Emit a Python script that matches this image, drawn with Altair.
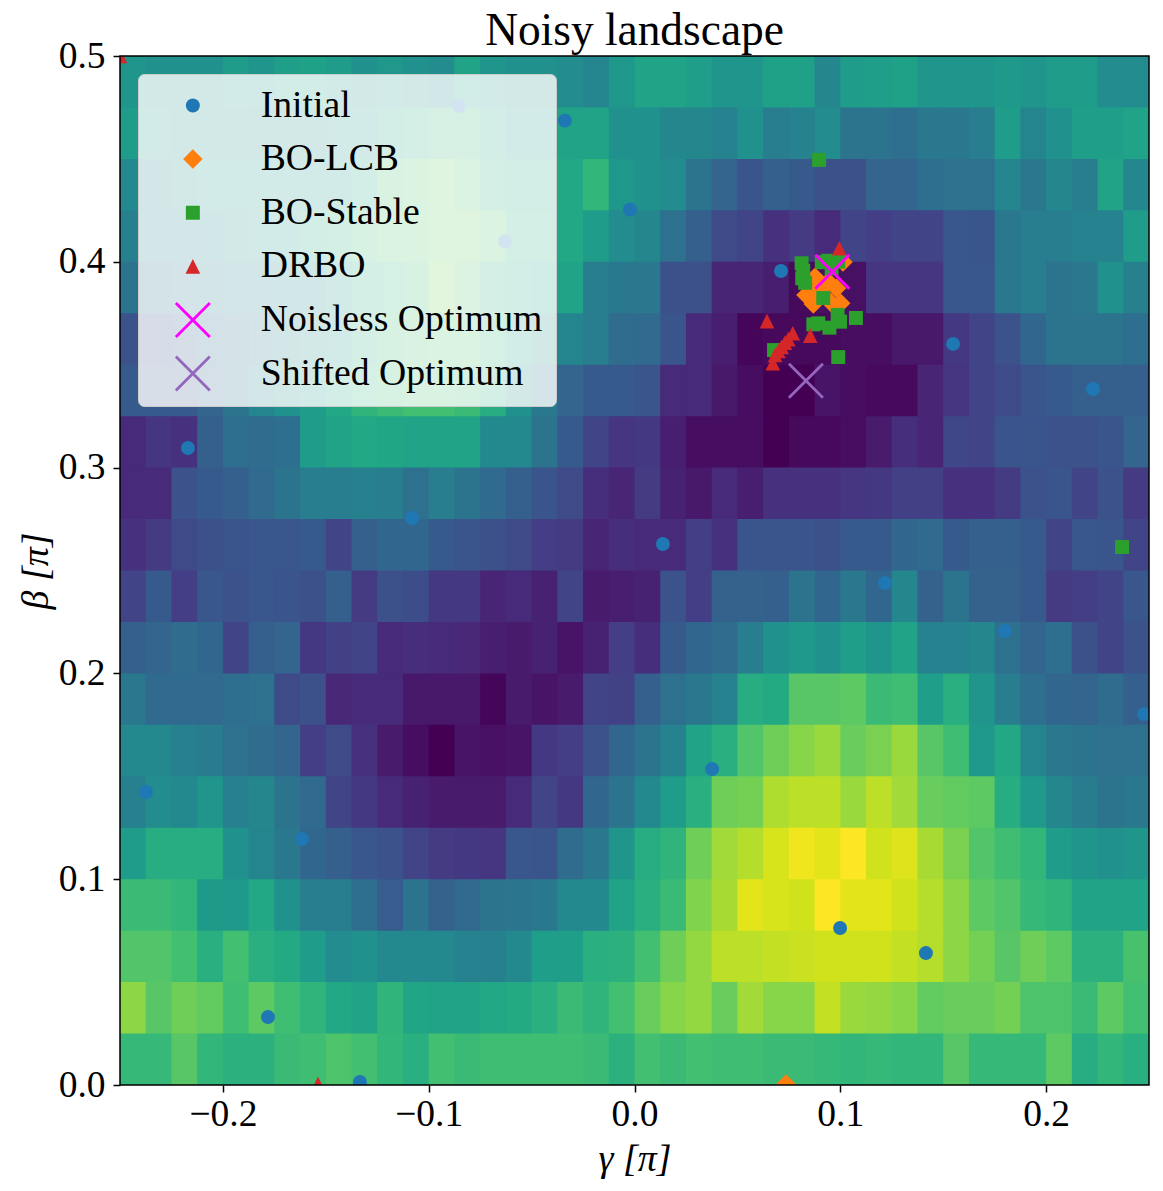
import altair as alt
import pandas as pd

# Landscape values on a 0..1 scale, first row = top of the plot (beta from 0.5 down to 0)
row00 = [.52,.50,.50,.50,.55,.52,.56,.57,.55,.50,.53,.50,.48,.58,.52,.50,.50,.48,.45,.53,.58,.58,.56,.52,.52,.57,.57,.46,.55,.56,.57,.52,.52,.52,.54,.52,.55,.55,.48,.48]
row01 = [.55,.52,.50,.50,.50,.50,.50,.50,.52,.55,.60,.62,.66,.66,.60,.55,.55,.58,.58,.50,.50,.46,.46,.44,.50,.42,.44,.48,.38,.38,.36,.40,.40,.42,.55,.45,.50,.56,.56,.58]
row02 = [.47,.47,.50,.52,.55,.55,.55,.55,.55,.60,.70,.72,.76,.72,.62,.60,.60,.60,.66,.53,.50,.48,.38,.32,.26,.30,.28,.24,.24,.32,.32,.36,.37,.37,.45,.40,.46,.42,.58,.46]
row03 = [.43,.45,.45,.48,.50,.53,.55,.60,.62,.68,.72,.72,.76,.76,.72,.62,.62,.60,.55,.48,.46,.37,.30,.22,.20,.14,.17,.12,.20,.18,.20,.20,.27,.26,.40,.42,.42,.44,.44,.55]
row04 = [.38,.38,.40,.42,.44,.46,.48,.48,.52,.62,.65,.68,.78,.73,.62,.60,.58,.58,.42,.40,.40,.24,.24,.10,.10,.08,.02,.04,.04,.15,.15,.15,.27,.27,.40,.42,.38,.40,.50,.43]
row05 = [.25,.27,.30,.34,.36,.40,.46,.50,.55,.64,.68,.70,.72,.72,.65,.58,.50,.45,.42,.35,.34,.26,.12,.08,.01,.02,.02,.02,.03,.03,.06,.06,.16,.20,.25,.33,.38,.38,.38,.36]
row06 = [.28,.28,.28,.32,.38,.45,.50,.55,.60,.65,.68,.70,.70,.68,.62,.50,.40,.32,.28,.28,.26,.12,.12,.06,.03,.00,.00,.05,.03,.02,.02,.10,.15,.20,.22,.26,.28,.30,.30,.30]
row07 = [.12,.15,.14,.30,.36,.35,.36,.55,.58,.60,.59,.58,.58,.58,.47,.47,.38,.28,.20,.15,.16,.08,.03,.03,.03,.00,.02,.02,.03,.07,.13,.10,.21,.20,.26,.26,.25,.25,.26,.32]
row08 = [.12,.12,.25,.28,.30,.34,.38,.42,.42,.43,.42,.37,.42,.38,.34,.30,.26,.22,.13,.10,.17,.09,.06,.12,.08,.14,.14,.14,.15,.16,.19,.19,.14,.14,.17,.25,.26,.20,.25,.17]
row09 = [.14,.17,.22,.24,.26,.27,.27,.28,.20,.30,.33,.33,.28,.26,.24,.22,.18,.17,.10,.13,.12,.12,.18,.14,.26,.26,.26,.24,.28,.28,.33,.34,.28,.30,.30,.28,.20,.27,.26,.20]
row10 = [.20,.28,.18,.27,.25,.27,.26,.24,.30,.17,.24,.23,.16,.16,.10,.12,.09,.20,.07,.08,.09,.25,.18,.31,.31,.30,.38,.33,.40,.33,.46,.31,.38,.31,.31,.28,.17,.18,.20,.27]
row11 = [.30,.32,.35,.33,.20,.30,.32,.16,.19,.20,.12,.13,.12,.11,.08,.07,.09,.05,.09,.18,.13,.28,.33,.35,.42,.50,.54,.50,.56,.52,.58,.44,.44,.46,.37,.32,.36,.24,.20,.25]
row12 = [.40,.34,.34,.34,.36,.37,.22,.24,.11,.12,.12,.06,.06,.06,.01,.07,.05,.07,.20,.19,.30,.37,.40,.44,.62,.61,.74,.74,.75,.68,.69,.56,.63,.52,.42,.36,.33,.32,.35,.30]
row13 = [.47,.47,.43,.41,.37,.35,.32,.18,.22,.14,.07,.03,.00,.05,.04,.05,.16,.18,.25,.33,.38,.44,.58,.63,.73,.78,.82,.85,.77,.80,.85,.74,.69,.54,.60,.45,.40,.38,.37,.37]
row14 = [.43,.48,.47,.52,.43,.46,.38,.34,.20,.16,.12,.09,.07,.07,.07,.12,.20,.16,.33,.38,.47,.55,.63,.78,.79,.88,.90,.90,.85,.90,.86,.77,.76,.75,.62,.54,.46,.41,.38,.40]
row15 = [.55,.62,.62,.62,.50,.45,.40,.33,.30,.27,.25,.20,.17,.16,.15,.27,.26,.35,.40,.52,.62,.65,.78,.86,.89,.94,.98,.96,1.0,.93,.95,.87,.80,.73,.69,.66,.55,.52,.50,.52]
row16 = [.68,.68,.66,.54,.54,.60,.50,.42,.42,.36,.29,.38,.31,.34,.38,.39,.40,.47,.47,.58,.63,.68,.81,.87,.96,.94,.93,1.0,.96,.96,.93,.89,.83,.75,.73,.67,.65,.58,.58,.58]
row17 = [.73,.73,.70,.63,.70,.63,.61,.55,.48,.50,.47,.47,.47,.44,.43,.47,.56,.56,.63,.64,.70,.78,.84,.90,.90,.91,.92,.93,.93,.93,.91,.89,.83,.79,.74,.78,.75,.64,.64,.71]
row18 = [.83,.74,.78,.76,.69,.75,.69,.65,.60,.58,.65,.59,.58,.58,.60,.61,.63,.68,.65,.70,.77,.82,.84,.77,.86,.82,.82,.91,.85,.84,.82,.76,.77,.77,.79,.72,.72,.68,.75,.70]
row19 = [.67,.67,.74,.66,.64,.64,.68,.69,.72,.70,.66,.63,.70,.68,.69,.69,.69,.69,.68,.64,.70,.68,.70,.69,.69,.68,.68,.67,.66,.67,.66,.66,.74,.67,.67,.67,.75,.62,.66,.63]
rows = [row00,row01,row02,row03,row04,row05,row06,row07,row08,row09,row10,row11,row12,row13,row14,row15,row16,row17,row18,row19]

initial_x = [-.0853,-.0338,-.0022,-.0629,.0712,.1548,.2228,-.2170,-.1081,.0138,.1217,.1800,.2476,.0377,-.2374,-.1616,.0999,.1416,-.1781,-.1334]
initial_y = [.4757,.4686,.4254,.4100,.3955,.3601,.3382,.3095,.2755,.2629,.2439,.2206,.1803,.1535,.1424,.1195,.0763,.0641,.0330,.0015]
lcb_x = [.0833,.0869,.0877,.0893,.0942,.0982,.0958,.1002,.0917,.1013,.0736]
lcb_y = [.3839,.3795,.3925,.3871,.3903,.3871,.3798,.3798,.3839,.3999,.0005]
stable_x = [.0812,.0820,.0815,.0829,.0910,.0942,.0990,.0958,.0917,.0869,.0893,.0947,.0987,.0999,.1076,.0990,.0678,.0897,.2369]
stable_y = [.3993,.3957,.3920,.3898,.3998,.4005,.4001,.3968,.3824,.3696,.3701,.3680,.3742,.3709,.3727,.3537,.3571,.4495,.2614]
drbo_x = [.0995,.0644,.0769,.0854,.0672,.0683,.0699,.0715,.0731,.0747,-.25,-.1538]
drbo_y = [.4066,.3712,.3653,.3641,.3507,.3547,.3567,.3587,.3607,.3624,.5,.0005]
noiseless_x, noiseless_y = [.0961], [.3952]
shifted_x, shifted_y = [.0833], [.3422]

names = ["Initial", "BO-LCB", "BO-Stable", "DRBO", "Noisless Optimum", "Shifted Optimum"]
series = [(initial_x, initial_y), (lcb_x, lcb_y), (stable_x, stable_y), (drbo_x, drbo_y),
          (noiseless_x, noiseless_y), (shifted_x, shifted_y)]
fills = ["#1f77b4", "#ff7f0e", "#2ca02c", "#d62728", "transparent", "transparent"]
strokes = ["transparent", "transparent", "transparent", "transparent", "#ff00ff", "#9467bd"]
shapes = ["circle", "diamond", "square", "M0,-1L1,1L-1,1Z", "M-1,-1L1,1M-1,1L1,-1", "M-1,-1L1,1M-1,1L1,-1"]
sizes = [195, 380, 195, 215, 1156, 1156]

dx, dy = 0.0125, 0.025
overlap = 0.0004
heat = pd.DataFrame([
    {"x0": -0.25 + c * dx, "x1": -0.25 + (c + 1) * dx + overlap,
     "y1": 0.5 - r * dy, "y0": 0.5 - (r + 1) * dy - overlap, "v": v}
    for r, row in enumerate(rows) for c, v in enumerate(row)
])
points = pd.DataFrame([
    {"x": x, "y": y, "series": n, "order": i}
    for i, (n, (xs, ys)) in enumerate(zip(names, series)) for x, y in zip(xs, ys)
])
frame = pd.DataFrame({"x0": [-0.25], "x1": [0.25], "y0": [0.0], "y1": [0.5]})

FONT = "Liberation Serif"
xscale = alt.Scale(domain=[-0.25, 0.25], nice=False, zero=False)
yscale = alt.Scale(domain=[0, 0.5], nice=False, zero=False)

base = alt.Chart(heat).mark_rect(clip=True, strokeWidth=0).encode(
    x=alt.X("x0:Q", scale=xscale, title="γ [π]",
            axis=alt.Axis(values=[-0.2, -0.1, 0, 0.1, 0.2], format=".1f", grid=False, domain=False,
                          labelPadding=3, titlePadding=8)),
    x2="x1:Q",
    y=alt.Y("y0:Q", scale=yscale, title="β [π]",
            axis=alt.Axis(values=[0, 0.1, 0.2, 0.3, 0.4, 0.5], format=".1f", grid=False, domain=False,
                          labelPadding=8, titlePadding=3)),
    y2="y1:Q",
    color=alt.Color("v:Q", scale=alt.Scale(scheme="viridis", domain=[0, 1]), legend=None),
)

pts = alt.Chart(points).mark_point(clip=True, opacity=1, filled=True, strokeWidth=2.8).encode(
    x=alt.X("x:Q", scale=xscale),
    y=alt.Y("y:Q", scale=yscale),
    fill=alt.Fill("series:N", scale=alt.Scale(domain=names, range=fills), legend=alt.Legend(
        title=None, orient="none", legendX=18, legendY=18, fillColor="rgba(255,255,255,0.8)",
        strokeColor="#cccccc", cornerRadius=6, padding=13, symbolOffset=23, labelOffset=49,
        labelFont=FONT, labelFontSize=37.7, labelColor="black", rowPadding=14.6, clipHeight=37,
        labelLimit=400, symbolStrokeWidth=2.8, symbolOpacity=1)),
    stroke=alt.Stroke("series:N", scale=alt.Scale(domain=names, range=strokes)),
    shape=alt.Shape("series:N", scale=alt.Scale(domain=names, range=shapes)),
    size=alt.Size("series:N", scale=alt.Scale(type="ordinal", domain=names, range=sizes)),
    order="order:Q",
)

box = alt.Chart(frame).mark_rect(filled=False, stroke="black", strokeWidth=1.5, clip=False).encode(
    x=alt.X("x0:Q", scale=xscale), x2="x1:Q",
    y=alt.Y("y0:Q", scale=yscale), y2="y1:Q",
)

chart = alt.layer(base, pts, box).properties(
    width=1029, height=1029,
    title=alt.TitleParams("Noisy landscape", font=FONT, fontSize=45.4, fontWeight="normal", color="black", offset=-17),
    padding={"left": 9, "right": 0, "top": 0, "bottom": 0},
).configure_view(stroke=None).configure_axis(
    labelFont=FONT, labelFontSize=37.5, labelColor="black", tickColor="black", tickSize=7, tickWidth=1.5,
    titleFont=FONT, titleFontSize=38, titleFontWeight="normal", titleFontStyle="italic",
    titleColor="black",
)

chart.save("out.html", embed_options={"renderer": "svg", "actions": False})
